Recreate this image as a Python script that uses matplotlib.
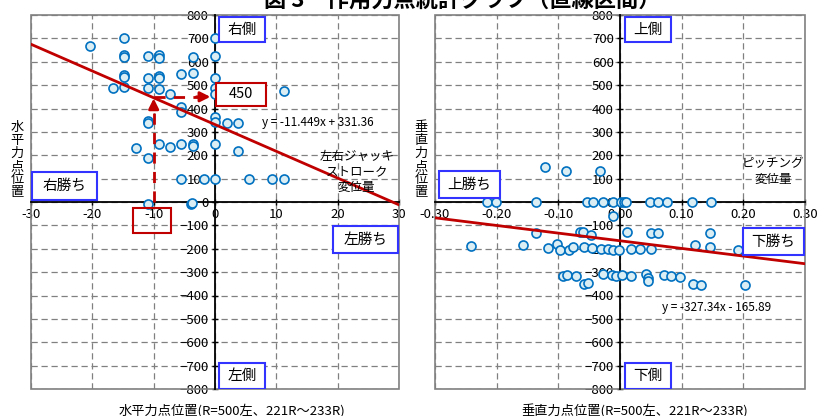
import matplotlib
matplotlib.use("Agg")
import matplotlib.pyplot as plt
from matplotlib.patches import Rectangle
import numpy as np

plt.rcParams['font.family'] = ['Noto Sans CJK JP', 'DejaVu Sans']

# Left chart: jack stroke displacement vs horizontal force point
left_x = [-20.3, -14.8, -14.8, -14.8, -14.8, -14.8, -14.8, -16.7, -11.0, -9.2, -9.2,
          -11.0, -9.2, -9.2, -11.0, -9.2, -7.4, -5.5, -3.6, -3.6, -5.5, -5.5,
          0, 0, 0, 0, 0, 5.5, 11.2, -11.0, -11.0, 0, 0, 1.9, 3.8,
          -12.9, -11.0, -9.2, -7.4, -5.5, -3.6, -3.6, 0, 3.8,
          -5.5, -1.8, 0, 5.5, 9.3, 11.2, -11.0, -3.9, -3.8]
left_y = [667, 703, 629, 619, 543, 533, 493, 489, 626, 631, 614,
          531, 540, 531, 486, 483, 464, 547, 553, 621, 407, 383,
          703, 624, 531, 486, 461, 471, 476, 347, 337, 364, 343, 340, 340,
          229, 189, 247, 236, 247, 247, 240, 247, 219,
          99, 97, 97, 99, 99, 99, -7, -10, -5]
left_slope, left_icpt = -11.449, 331.36

# Right chart: pitching displacement vs vertical force point
right_x = [-0.122, -0.088, -0.032,
           -0.216, -0.201, -0.136, -0.054, -0.043, -0.028, -0.012, 0.002, 0.006, 0.010,
           0.048, 0.062, 0.077, 0.117, 0.147,
           -0.011,
           -0.065, -0.060, -0.047, 0.012, 0.051, 0.062, 0.146, -0.136,
           -0.242, -0.157, -0.117, -0.102, -0.097, -0.082, -0.076, -0.058, -0.045,
           -0.031, -0.020, -0.012, -0.001, 0.018, 0.032, 0.051, 0.122, 0.146, 0.191,
           -0.093, -0.086, -0.072, -0.059, -0.052, -0.028, -0.013, -0.006, 0.003,
           0.018, 0.042, 0.046, 0.046, 0.072, 0.083, 0.097, 0.118, 0.132, 0.202]
right_y = [150, 133, 133,
           0, 0, 0, 0, 0, 0, 0, 0, 0, 0,
           0, 0, 0, 0, 0,
           -60,
           -127, -127, -143, -128, -133, -133, -133, -131,
           -189, -186, -195, -181, -207, -207, -193, -191, -196,
           -200, -203, -205, -207, -202, -202, -202, -185, -193, -205,
           -316, -312, -315, -352, -345, -310, -312, -315, -312,
           -315, -310, -325, -340, -313, -315, -320, -352, -355, -355]
right_slope, right_icpt = -327.34, -165.89

left_ticks = [-30, -20, -10, 0, 10, 20, 30]
right_ticks = [-0.30, -0.20, -0.10, 0.00, 0.10, 0.20, 0.30]
y_ticks = list(range(-800, 801, 100))

RED = '#c00000'
BLUE_BOX = '#3333ff'

fig = plt.figure(figsize=(8.28, 4.16), dpi=100)
ax1 = fig.add_axes([31/828, 1-389/416, 368/828, 374/416])
ax2 = fig.add_axes([435/828, 1-389/416, 370/828, 374/416])


def style_axes(ax, xticks, xfmt):
    ax.set_ylim(-800, 800)
    ax.set_xlim(xticks[0], xticks[-1])
    ax.set_xticks(xticks)
    ax.set_xticklabels([xfmt.format(t) for t in xticks])
    ax.set_yticks(y_ticks)
    ax.grid(True, color='#808080', ls=(0, (5, 3)), lw=0.9)
    for s in ['top', 'right']:
        ax.spines[s].set_visible(False)
    for s in ['left', 'bottom']:
        ax.spines[s].set_position(('data', 0))
        ax.spines[s].set_color('black')
        ax.spines[s].set_linewidth(1.3)
        ax.spines[s].set_zorder(2.6)
    ax.tick_params(direction='inout', length=5, width=1, labelsize=9.5, pad=2)
    ax.add_patch(Rectangle((0, 0), 1, 1, transform=ax.transAxes, fill=False,
                           ec='#808080', lw=1.2, clip_on=False, zorder=2.5))


def label_box(ax, x0, y0, x1, y1, txt, ec=BLUE_BOX, fs=10.5):
    ax.add_patch(Rectangle((x0, y0), x1 - x0, y1 - y0, fc='white', ec=ec, lw=1.5, zorder=4))
    ax.text((x0 + x1) / 2, (y0 + y1) / 2, txt, ha='center', va='center', fontsize=fs, zorder=5)


style_axes(ax1, left_ticks, '{:d}')
style_axes(ax2, right_ticks, '{:.2f}')

mk = dict(marker='o', ls='none', ms=6.5, mfc='#dbeef4', mec='#0070c0', mew=1.2, zorder=3)

# left chart
ax1.plot(left_x, left_y, **mk)
lx = np.array([-30, 30])
ax1.plot(lx, left_slope * lx + left_icpt, color=RED, lw=2, zorder=3.5)
ax1.plot([-10, -10], [0, 420], color=RED, lw=2, ls=(0, (4, 3)), zorder=3.6)
ax1.annotate('', xy=(-10, 455), xytext=(-10, 400),
             arrowprops=dict(arrowstyle='-|>,head_length=0.6,head_width=0.3', color=RED, lw=2), zorder=3.6)
ax1.plot([-10, -2.5], [450, 450], color=RED, lw=2, ls=(0, (4, 3)), zorder=3.6)
ax1.annotate('', xy=(-0.3, 450), xytext=(-3.5, 450),
             arrowprops=dict(arrowstyle='-|>,head_length=0.6,head_width=0.3', color=RED, lw=2), zorder=3.6)
label_box(ax1, 0.1, 411, 8.3, 509, '450', ec=RED)
ax1.add_patch(Rectangle((-13.3, -134), 6.1, 110, fill=False, ec=RED, lw=1.5, zorder=4))
label_box(ax1, 0.7, 684, 8.2, 791, '右側')
label_box(ax1, 0.7, -798, 8.2, -689, '左側')
label_box(ax1, -29.9, 9, -19.2, 128, '右勝ち')
label_box(ax1, 19.2, -218, 29.8, -103, '左勝ち')
ax1.text(7.6, 338, 'y = -11.449x + 331.36', fontsize=8.5, va='center', zorder=5)
ax1.text(23.1, 128, '左右ジャッキ\nストローク\n変位量', fontsize=9, ha='center', va='center',
         linespacing=1.25, zorder=5)

# right chart
ax2.plot(right_x, right_y, **mk)
rx = np.array([-0.30, 0.30])
ax2.plot(rx, right_slope * rx + right_icpt, color=RED, lw=2, zorder=3.5)
label_box(ax2, 0.008, 684, 0.083, 791, '上側')
label_box(ax2, 0.008, -798, 0.083, -689, '下側')
label_box(ax2, -0.293, 16, -0.195, 131, '上勝ち')
label_box(ax2, 0.199, -228, 0.298, -112, '下勝ち')
ax2.text(0.068, -450, 'y = -327.34x - 165.89', fontsize=8.5, va='center', zorder=5)
ax2.text(0.248, 130, 'ピッチング\n変位量', fontsize=9, ha='center', va='center',
         linespacing=1.25, zorder=5)

# axis labels
fig.text(17/828, 1-160/416, '水\n平\n力\n点\n位\n置', fontsize=9.5, ha='center', va='center', linespacing=1.0)
fig.text(421/828, 1-160/416, '垂\n直\n力\n点\n位\n置', fontsize=9.5, ha='center', va='center', linespacing=1.0)
fig.text(232/828, 1-411/416, '水平力点位置(R=500左、221R～233R)', fontsize=9.5, ha='center', va='center')
fig.text(635/828, 1-411/416, '垂直力点位置(R=500左、221R～233R)', fontsize=9.5, ha='center', va='center')
fig.text(462/828, 1.0, '図 3　作用力点統計グラフ（直線区間）', fontsize=16, fontweight='bold',
         ha='center', va='center')

fig.savefig('out.png', dpi=100)
